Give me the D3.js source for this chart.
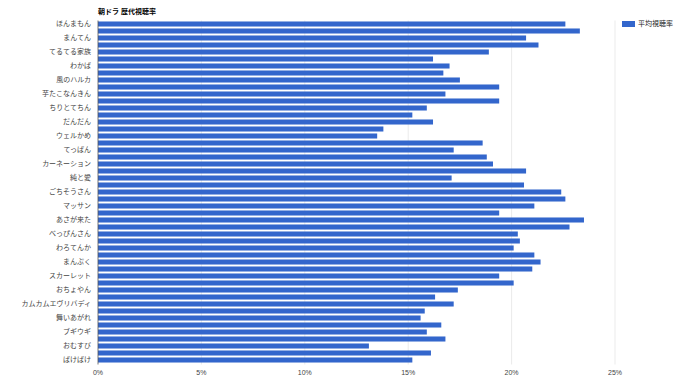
<!DOCTYPE html>
<html>
<head>
<meta charset="utf-8">
<script src="https://cdn.jsdelivr.net/npm/d3@7.9.0/dist/d3.min.js"></script>
<style>
  body { margin: 0; background: #fff; }
  svg { font-family: Arial, "Liberation Sans", "Noto Sans CJK JP", sans-serif; }
</style>
</head>
<body>
<svg id="chart" width="700" height="386"></svg>
<script>
// 朝ドラ titles, 2001 autumn to 2025 autumn
const dramas = [
  "ほんまもん", "さくら", "まんてん", "こころ", "てるてる家族", "天花", "わかば", "ファイト",
  "風のハルカ", "純情きらり", "芋たこなんきん", "どんど晴れ", "ちりとてちん", "瞳", "だんだん", "つばさ",
  "ウェルかめ", "ゲゲゲの女房", "てっぱん", "おひさま", "カーネーション", "梅ちゃん先生", "純と愛", "あまちゃん",
  "ごちそうさん", "花子とアン", "マッサン", "まれ", "あさが来た", "とと姉ちゃん", "べっぴんさん", "ひよっこ",
  "わろてんか", "半分、青い。", "まんぷく", "なつぞら", "スカーレット", "エール", "おちょやん", "おかえりモネ",
  "カムカムエヴリバディ", "ちむどんどん", "舞いあがれ", "らんまん", "ブギウギ", "虎に翼", "おむすび", "あんぱん",
  "ばけばけ"
];

// 平均視聴率 (%)
const ratings = [
  22.6, 23.3, 20.7, 21.3, 18.9, 16.2, 17.0, 16.7,
  17.5, 19.4, 16.8, 19.4, 15.9, 15.2, 16.2, 13.8,
  13.5, 18.6, 17.2, 18.8, 19.1, 20.7, 17.1, 20.6,
  22.4, 22.6, 21.1, 19.4, 23.5, 22.8, 20.3, 20.4,
  20.1, 21.1, 21.4, 21.0, 19.4, 20.1, 17.4, 16.3,
  17.2, 15.8, 15.6, 16.6, 15.9, 16.8, 13.1, 16.1,
  15.2
];

const xTicks = [0, 5, 10, 15, 20, 25];
const seriesName = "平均視聴率";
const title = "朝ドラ 歴代視聴率";

const data = dramas.map((name, i) => ({ name, value: ratings[i] }));

const svg = d3.select("#chart");
const plotLeft = 98, plotRight = 615, plotTop = 20.5, plotBottom = 363.5;
const barColor = "#3366cc";

const x = d3.scaleLinear().domain([0, 25]).range([plotLeft, plotRight]);
const y = d3.scaleBand().domain(dramas).range([plotTop, plotBottom]).paddingInner(0.28).paddingOuter(0.14);

// gridlines
svg.append("g")
  .selectAll("line")
  .data(xTicks.filter(t => t > 0))
  .enter()
  .append("line")
  .attr("x1", d => x(d)).attr("x2", d => x(d))
  .attr("y1", plotTop).attr("y2", plotBottom + 1)
  .attr("stroke", "#ebebeb")
  .attr("stroke-width", 1);

// bars
svg.append("g")
  .selectAll("rect")
  .data(data)
  .enter()
  .append("rect")
  .attr("x", x(0))
  .attr("y", d => y(d.name))
  .attr("width", d => x(d.value) - x(0))
  .attr("height", y.bandwidth())
  .attr("fill", barColor);

// baseline
svg.append("line")
  .attr("x1", x(0)).attr("x2", x(0))
  .attr("y1", plotTop).attr("y2", plotBottom + 1)
  .attr("stroke", "#555")
  .attr("stroke-width", 0.8);

// category labels, every other one like the original
svg.append("g")
  .selectAll("text")
  .data(data.filter((d, i) => i % 2 === 0))
  .enter()
  .append("text")
  .attr("x", plotLeft - 7)
  .attr("y", d => y(d.name) + y.bandwidth() / 2)
  .attr("dy", "0.35em")
  .attr("text-anchor", "end")
  .attr("font-size", 7)
  .attr("fill", "#444")
  .text(d => d.name);

// x tick labels
svg.append("g")
  .selectAll("text")
  .data(xTicks)
  .enter()
  .append("text")
  .attr("x", d => x(d))
  .attr("y", 373)
  .attr("dy", "0.35em")
  .attr("text-anchor", "middle")
  .attr("font-size", 7)
  .attr("fill", "#444")
  .text(d => d + "%");

// title
svg.append("text")
  .attr("x", 98)
  .attr("y", 12)
  .attr("dy", "0.35em")
  .attr("font-size", 7)
  .attr("font-weight", "bold")
  .attr("fill", "#000")
  .text(title);

// legend
const legend = svg.append("g");
legend.append("rect")
  .attr("x", 622).attr("y", 21)
  .attr("width", 13).attr("height", 6)
  .attr("fill", barColor);
legend.append("text")
  .attr("x", 638)
  .attr("y", 24)
  .attr("dy", "0.35em")
  .attr("font-size", 7)
  .attr("fill", "#222")
  .text(seriesName);
</script>
</body>
</html>
